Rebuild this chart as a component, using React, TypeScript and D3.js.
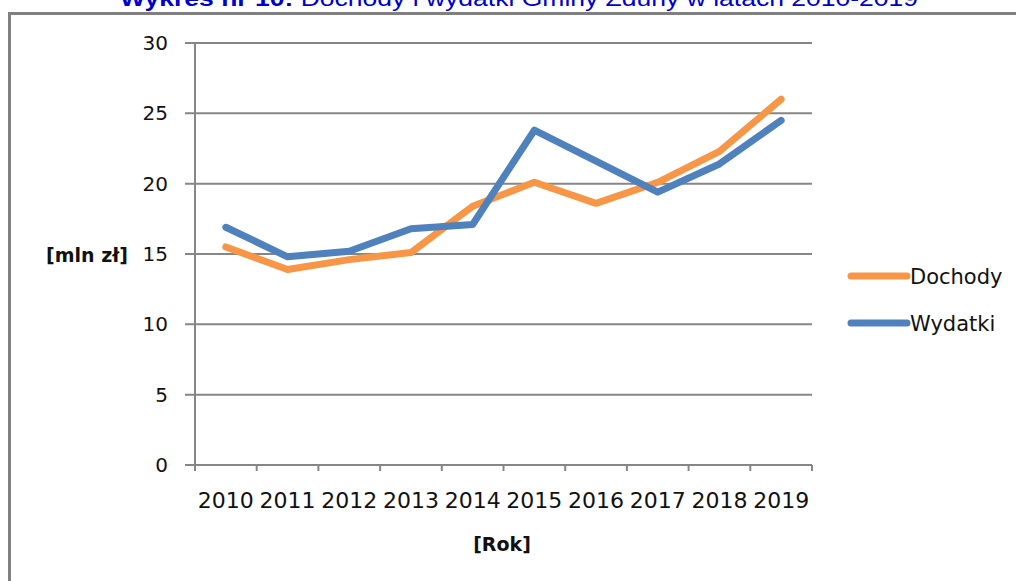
import React from 'react';
import * as d3 from 'd3';

const years = ['2010', '2011', '2012', '2013', '2014', '2015', '2016', '2017', '2018', '2019'];
const dochody = [15.5, 13.9, 14.6, 15.1, 18.4, 20.1, 18.6, 20.1, 22.3, 26.0];
const wydatki = [16.9, 14.8, 15.2, 16.8, 17.1, 23.8, 21.6, 19.4, 21.4, 24.5];
const yTicks = [0, 5, 10, 15, 20, 25, 30];

const series = [
    { name: 'Dochody', values: dochody, color: '#F79646' },
    { name: 'Wydatki', values: wydatki, color: '#4F81BD' },
];

const W = 1016;
const H = 581;
const left = 195;
const right = 812;
const top = 43;
const bottom = 465;
const grid = '#868686';

export default function App() {
    const x = d3.scaleBand<string>().domain(years).range([left, right]);
    const y = d3.scaleLinear().domain([0, 30]).range([bottom, top]);

    const line = d3.line<number>()
        .x((d, i) => (x(years[i]) as number) + x.bandwidth() / 2)
        .y(d => y(d));

    // band edges for the little tick marks under the axis
    const edges = years.map(yr => x(yr) as number).concat([right]);

    return (
        <svg width={W} height={H} style={{ position: 'absolute', left: 0, top: 0, background: '#fff' }}>
            <text x={120} y={6} fontFamily="Liberation Sans, Arial, sans-serif" fontSize={22} fill="#0000CC"
                textLength={798} lengthAdjust="spacingAndGlyphs">
                <tspan fontWeight="bold">Wykres nr 10:</tspan> Dochody i wydatki Gminy Zduny w latach 2010-2019
            </text>

            {/* outer chart frame, runs off the picture right and bottom */}
            <path d={`M 9.5,${H + 5} L 9.5,13.5 L ${W + 5},13.5`} fill="none" stroke="#808080" strokeWidth={3} />

            {yTicks.map(t => (
                <g key={t}>
                    <line x1={185} x2={right} y1={y(t)} y2={y(t)} stroke={grid} strokeWidth={2} />
                    <text x={168} y={y(t) + 7} textAnchor="end" fontFamily="DejaVu Sans" fontSize={20} fill="#111">{t}</text>
                </g>
            ))}
            <line x1={left} x2={left} y1={top} y2={bottom + 6} stroke={grid} strokeWidth={2} />
            {edges.map((e, i) => (
                <line key={i} x1={e} x2={e} y1={bottom} y2={bottom + 6} stroke={grid} strokeWidth={2} />
            ))}
            {years.map(yr => (
                <text key={yr} x={(x(yr) as number) + x.bandwidth() / 2} y={508} textAnchor="middle"
                    fontFamily="DejaVu Sans" fontSize={22} fill="#111">{yr}</text>
            ))}

            <text x={502} y={551} textAnchor="middle" fontFamily="DejaVu Sans" fontWeight="bold" fontSize={19} fill="#111">[Rok]</text>
            <text x={87} y={262} textAnchor="middle" fontFamily="DejaVu Sans" fontWeight="bold" fontSize={19} fill="#111">[mln zł]</text>

            {series.map(s => (
                <path key={s.name} d={line(s.values) as string} fill="none" stroke={s.color} strokeWidth={7}
                    strokeLinecap="round" strokeLinejoin="round" />
            ))}

            {series.map((s, i) => (
                <g key={s.name} transform={`translate(0, ${276 + i * 47})`}>
                    <line x1={851} x2={907} y1={0} y2={0} stroke={s.color} strokeWidth={7} strokeLinecap="round" />
                    <text x={910} y={8} fontFamily="DejaVu Sans" fontSize={21} fill="#111">{s.name}</text>
                </g>
            ))}
        </svg>
    );
}
